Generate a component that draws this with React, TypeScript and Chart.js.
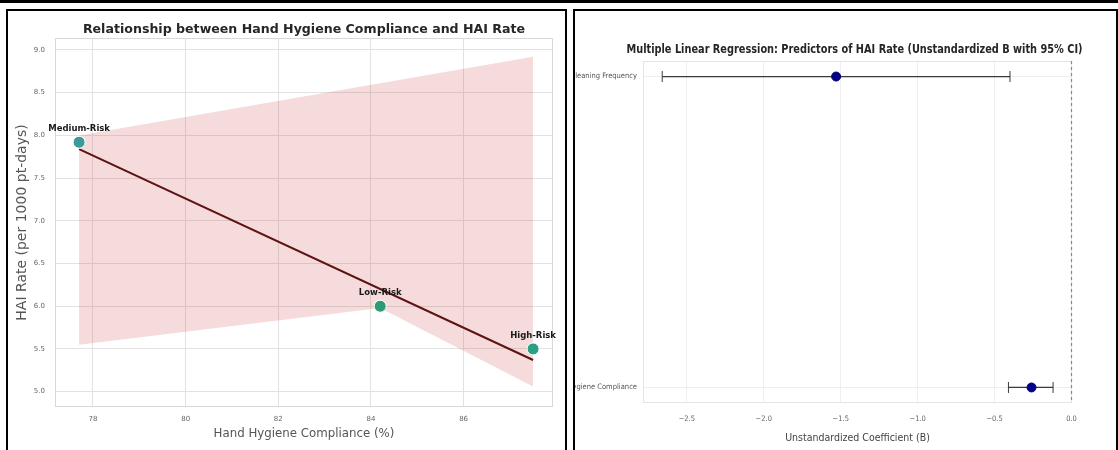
import React, { useEffect, useRef } from "react";
import { Chart, registerables } from "chart.js";

Chart.register(...registerables);

// ---------- Left panel data ----------
const riskGroups = ["Medium-Risk", "Low-Risk", "High-Risk"];
const complianceValues = [77.7, 84.2, 87.5];
const haiRateValues = [7.92, 6.0, 5.5];
const pointColors = ["#3c9a98", "#2c9a74", "#2ba082"];
const fitX = [77.7, 87.5];
const fitY = [7.84, 5.37];
const bandUpperX = [77.7, 87.5];
const bandUpperY = [8.0, 8.92];
const bandLowerX = [77.7, 84.2, 87.5];
const bandLowerY = [5.55, 5.98, 5.06];
const leftXTicks = [78, 80, 82, 84, 86];
const leftYTicks = [5.0, 5.5, 6.0, 6.5, 7.0, 7.5, 8.0, 8.5, 9.0];

// ---------- Right panel data ----------
const predictors = ["Hand Hygiene Compliance", "Cleaning Frequency"];
const coefB = [-0.26, -1.53];
const ciLow = [-0.41, -2.66];
const ciHigh = [-0.12, -0.4];
const rightXTicks = [-2.5, -2.0, -1.5, -1.0, -0.5, 0.0];
const zeroReference = 0;

const SANS = '"DejaVu Sans", sans-serif';
const NARROW = '"Liberation Sans Narrow", "DejaVu Sans Condensed", "DejaVu Sans", sans-serif';

const framePlugin = (id: string, color: string) => ({
  id,
  beforeDatasetsDraw(chart: any) {
    const { ctx, chartArea: a } = chart;
    ctx.save();
    ctx.strokeStyle = color;
    ctx.lineWidth = 1;
    ctx.strokeRect(a.left + 0.5, a.top + 0.5, a.width - 1, a.height - 1);
    ctx.restore();
  },
});

const pointLabelPlugin = {
  id: "pointLabels",
  afterDatasetsDraw(chart: any) {
    const { ctx, scales } = chart;
    ctx.save();
    ctx.font = 'bold 8.5px "DejaVu Sans"';
    ctx.fillStyle = "#1a1a1a";
    ctx.textAlign = "center";
    ctx.textBaseline = "middle";
    riskGroups.forEach((g, i) => {
      const px = scales.x.getPixelForValue(complianceValues[i]);
      const py = scales.y.getPixelForValue(haiRateValues[i]);
      ctx.fillText(g, px, py - 13);
    });
    ctx.restore();
  },
};

const zeroLinePlugin = {
  id: "zeroLine",
  beforeDatasetsDraw(chart: any) {
    const { ctx, chartArea: a, scales } = chart;
    const px = Math.round(scales.x.getPixelForValue(zeroReference)) - 0.5;
    ctx.save();
    ctx.strokeStyle = "rgba(220,40,60,0.7)";
    ctx.lineWidth = 1.2;
    ctx.setLineDash([3, 3]);
    ctx.beginPath();
    ctx.moveTo(px, a.top);
    ctx.lineTo(px, a.bottom);
    ctx.stroke();
    ctx.restore();
  },
};

const rightTitlePlugin = {
  id: "rightTitle",
  afterDraw(chart: any) {
    const { ctx, chartArea: a } = chart;
    ctx.save();
    ctx.font = `bold 12px ${NARROW}`;
    ctx.fillStyle = "#262626";
    ctx.textAlign = "center";
    ctx.textBaseline = "middle";
    ctx.fillText(
      "Multiple Linear Regression: Predictors of HAI Rate (Unstandardized B with 95% CI)",
      (a.left + a.right) / 2 - 3,
      39,
      456
    );
    ctx.restore();
  },
};

function leftConfig(): any {
  return {
    type: "scatter",
    data: {
      datasets: [
        {
          label: "Groups",
          data: complianceValues.map((v, i) => ({ x: v, y: haiRateValues[i] })),
          pointRadius: 6,
          pointBackgroundColor: pointColors,
          pointBorderColor: "#ffffff",
          pointBorderWidth: 1,
          order: 0,
        },
        {
          type: "line",
          label: "Fit",
          data: fitX.map((v, i) => ({ x: v, y: fitY[i] })),
          showLine: true,
          borderColor: "#5e1212",
          borderWidth: 2,
          pointRadius: 0,
          fill: false,
          order: 1,
        },
        {
          type: "line",
          label: "CI upper",
          data: bandUpperX.map((v, i) => ({ x: v, y: bandUpperY[i] })),
          showLine: true,
          borderWidth: 0,
          borderColor: "rgba(0,0,0,0)",
          pointRadius: 0,
          fill: false,
          order: 2,
        },
        {
          type: "line",
          label: "CI lower",
          data: bandLowerX.map((v, i) => ({ x: v, y: bandLowerY[i] })),
          showLine: true,
          borderWidth: 0,
          borderColor: "rgba(0,0,0,0)",
          backgroundColor: "rgba(205,75,75,0.2)",
          pointRadius: 0,
          fill: "-1",
          order: 3,
        },
      ],
    },
    options: {
      responsive: false,
      animation: false,
      devicePixelRatio: 1,
      layout: { padding: { left: 0, right: 12, top: 0, bottom: 0 } },
      plugins: {
        legend: { display: false },
        tooltip: { enabled: false },
        title: {
          display: true,
          fullSize: false,
          text: "Relationship between Hand Hygiene Compliance and HAI Rate",
          font: { family: SANS, size: 12.6, weight: "bold" },
          color: "#262626",
          padding: { top: 11.4, bottom: 0.5 },
        },
      },
      scales: {
        x: {
          type: "linear",
          min: 77.18,
          max: 87.93,
          afterBuildTicks: (s: any) => {
            s.ticks = leftXTicks.map((v) => ({ value: v }));
          },
          afterFit: (s: any) => {
            s.height = 43;
          },
          ticks: {
            font: { family: SANS, size: 7 },
            color: "#666",
            padding: 7.8,
            callback: (v: any) => String(v),
          },
          grid: { color: "#e2e2e2", drawTicks: false },
          border: { display: false },
          title: {
            display: true,
            text: "Hand Hygiene Compliance (%)",
            font: { family: SANS, size: 11.8 },
            color: "#555",
            padding: { top: 0, bottom: 8.9 },
          },
        },
        y: {
          type: "linear",
          min: 4.82,
          max: 9.14,
          afterBuildTicks: (s: any) => {
            s.ticks = leftYTicks.map((v) => ({ value: v }));
          },
          afterFit: (s: any) => {
            s.width = 47;
          },
          ticks: {
            font: { family: SANS, size: 7 },
            color: "#666",
            padding: 10,
            callback: (v: any) => Number(v).toFixed(1),
          },
          grid: { color: "#e2e2e2", drawTicks: false },
          border: { display: false },
          title: {
            display: true,
            text: "HAI Rate (per 1000 pt-days)",
            font: { family: SANS, size: 14 },
            color: "#555",
            padding: { top: 5.6, bottom: 0 },
          },
        },
      },
    },
    plugins: [framePlugin("leftFrame", "#d8d8d8"), pointLabelPlugin],
  };
}

function fmtMinus(v: number): string {
  const s = Math.abs(v).toFixed(1);
  return v < -1e-9 ? "\u2212" + s : s;
}

function rightConfig(): any {
  return {
    type: "scatter",
    data: {
      datasets: [
        {
          label: "B",
          data: coefB.map((b, i) => ({ x: b, y: i })),
          pointRadius: 4.5,
          pointBackgroundColor: "#000080",
          pointBorderColor: "#000080",
          pointBorderWidth: 1,
          order: 0,
        },
        ...predictors.map((p, i) => ({
          type: "line",
          label: p + " 95% CI",
          data: [
            { x: ciLow[i], y: i },
            { x: ciHigh[i], y: i },
          ],
          showLine: true,
          borderColor: "#3a3a3a",
          borderWidth: 1.2,
          pointStyle: "line",
          pointRotation: 90,
          pointRadius: 5.5,
          pointBorderColor: "#3a3a3a",
          pointBorderWidth: 1,
          fill: false,
          order: 1,
        })),
      ],
    },
    options: {
      responsive: false,
      animation: false,
      devicePixelRatio: 1,
      layout: { padding: { left: 0, right: 44, top: 50, bottom: 0 } },
      plugins: {
        legend: { display: false },
        tooltip: { enabled: false },
        title: { display: false },
      },
      scales: {
        x: {
          type: "linear",
          min: -2.785,
          max: 0.003,
          afterBuildTicks: (s: any) => {
            s.ticks = rightXTicks.map((v) => ({ value: v }));
          },
          afterFit: (s: any) => {
            s.height = 47;
          },
          ticks: {
            font: { family: NARROW, size: 7.5 },
            color: "#666",
            padding: 11.8,
            callback: (v: any) => fmtMinus(Number(v)),
          },
          grid: { color: "#efefef", drawTicks: false },
          border: { display: false },
          title: {
            display: true,
            text: "Unstandardized Coefficient (B)",
            font: { family: NARROW, size: 10.5 },
            color: "#444",
            padding: { top: 0, bottom: 5.7 },
          },
        },
        y: {
          type: "linear",
          min: -0.05,
          max: 1.05,
          afterBuildTicks: (s: any) => {
            s.ticks = predictors.map((_, i) => ({ value: i }));
          },
          afterFit: (s: any) => {
            s.width = 68;
          },
          ticks: {
            font: { family: NARROW, size: 7.5 },
            color: "#555",
            padding: 6,
            callback: (v: any) => predictors[Math.round(Number(v))] ?? "",
          },
          grid: { color: "#efefef", drawTicks: false },
          border: { display: false },
        },
      },
    },
    plugins: [framePlugin("rightFrame", "#e4e4e4"), zeroLinePlugin, rightTitlePlugin],
  };
}

export default function App() {
  const leftRef = useRef<HTMLCanvasElement>(null);
  const rightRef = useRef<HTMLCanvasElement>(null);

  useEffect(() => {
    const c1 = new Chart(leftRef.current as HTMLCanvasElement, leftConfig());
    const c2 = new Chart(rightRef.current as HTMLCanvasElement, rightConfig());
    return () => {
      c1.destroy();
      c2.destroy();
    };
  }, []);

  return (
    <div
      style={{
        position: "absolute",
        left: 0,
        top: 0,
        width: 1118,
        height: 450,
        overflow: "hidden",
        background: "#ffffff",
      }}
    >
      <div style={{ position: "absolute", left: 0, top: 0, width: 1118, height: 3, background: "#000" }} />
      <div
        style={{
          position: "absolute",
          left: 6,
          top: 9,
          width: 561,
          height: 441,
          borderTop: "2px solid #000",
          borderLeft: "2px solid #000",
          borderRight: "2px solid #000",
          boxSizing: "border-box",
          overflow: "hidden",
        }}
      >
        <canvas ref={leftRef} width={557} height={439} style={{ display: "block", width: 557, height: 439 }} />
      </div>
      <div
        style={{
          position: "absolute",
          left: 573,
          top: 9,
          width: 545,
          height: 441,
          borderTop: "2px solid #000",
          borderLeft: "2px solid #000",
          borderRight: "2px solid #000",
          boxSizing: "border-box",
          overflow: "hidden",
        }}
      >
        <canvas ref={rightRef} width={541} height={439} style={{ display: "block", width: 541, height: 439 }} />
      </div>
    </div>
  );
}
